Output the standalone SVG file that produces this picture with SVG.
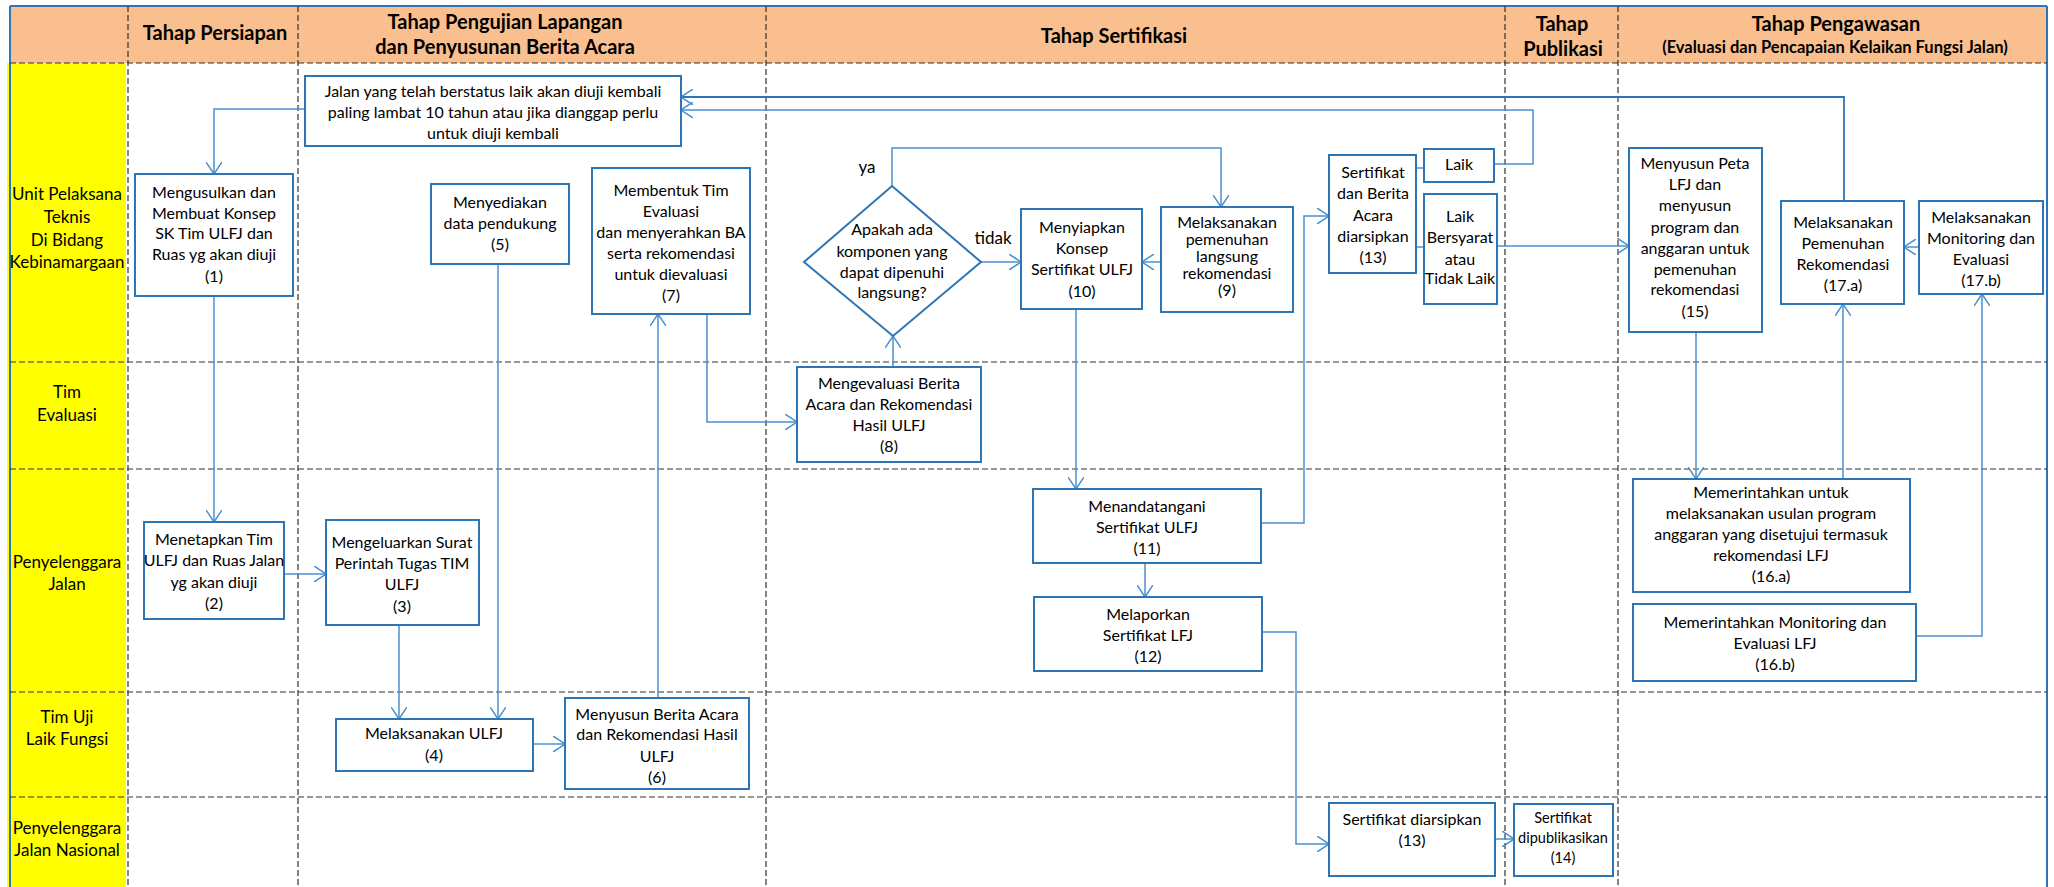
<svg xmlns="http://www.w3.org/2000/svg" width="2054" height="887" viewBox="0 0 2054 887">
<style>
.hdr{font-family:Lato,"Liberation Sans",sans-serif;font-weight:bold;font-size:20px;fill:#000;text-anchor:middle}
.hdr2{font-family:Lato,"Liberation Sans",sans-serif;font-weight:bold;font-size:16.5px;fill:#000;text-anchor:middle}
.lane{font-family:Lato,"Liberation Sans",sans-serif;font-size:17px;fill:#000;text-anchor:middle}
.t{font-family:Lato,"Liberation Sans",sans-serif;font-size:16px;fill:#000;text-anchor:middle}
.ts{font-family:Lato,"Liberation Sans",sans-serif;font-size:14.5px;fill:#000;text-anchor:middle}
.box{fill:#fff;stroke:#2E75B6;stroke-width:2}
.grid{stroke:#333;stroke-width:1.2;stroke-dasharray:6 3;fill:none}
.c{fill:none;stroke:#4A90D0;stroke-width:1.5}
.cd{fill:none;stroke:#2E75B6;stroke-width:1.8}
.lbl{font-family:Lato,"Liberation Sans",sans-serif;font-size:17px;fill:#000;text-anchor:middle}
</style>
<defs>
<marker id="ar" viewBox="0 0 12 16" refX="12" refY="8" markerWidth="12" markerHeight="16" markerUnits="userSpaceOnUse" orient="auto">
<path d="M0,0 L12,8 L0,16" fill="none" stroke="#4A90D0" stroke-width="1.5"/>
</marker>
</defs>
<rect x="0" y="0" width="2054" height="887" fill="#fff"/>
<rect x="10" y="6" width="2038" height="57" fill="#F9BF8F"/>
<rect x="7" y="63" width="119" height="824" fill="#FFFF00"/>
<g fill="none" stroke="#2E75B6" stroke-width="2">
<line x1="10" y1="6" x2="2047" y2="6"/>
<line x1="10" y1="6" x2="10" y2="887"/>
<line x1="2047" y1="6" x2="2047" y2="887"/>
</g>
<g class="grid">
<line x1="10" y1="63" x2="2047" y2="63"/>
<line x1="10" y1="362" x2="2047" y2="362"/>
<line x1="10" y1="469" x2="2047" y2="469"/>
<line x1="10" y1="692" x2="2047" y2="692"/>
<line x1="10" y1="797" x2="2047" y2="797"/>
<line x1="128" y1="6" x2="128" y2="887"/>
<line x1="298" y1="6" x2="298" y2="887"/>
<line x1="766" y1="6" x2="766" y2="887"/>
<line x1="1505" y1="6" x2="1505" y2="887"/>
<line x1="1618" y1="6" x2="1618" y2="887"/>
</g>
<g id="headers">
<text class="hdr" x="215" y="40">Tahap Persiapan</text>
<text class="hdr" x="505" y="29">Tahap Pengujian Lapangan</text>
<text class="hdr" x="505" y="54">dan Penyusunan Berita Acara</text>
<text class="hdr" x="1114" y="43">Tahap Sertifikasi</text>
<text class="hdr" x="1562" y="31">Tahap</text>
<text class="hdr" x="1563" y="56">Publikasi</text>
<text class="hdr" x="1836" y="31">Tahap Pengawasan</text>
<text class="hdr2" x="1835" y="53">(Evaluasi dan Pencapaian Kelaikan Fungsi Jalan)</text>
</g>
<g id="lanes">
<text class="lane" x="67" y="200">Unit Pelaksana</text>
<text class="lane" x="67" y="223">Teknis</text>
<text class="lane" x="67" y="246">Di Bidang</text>
<text class="lane" x="67" y="268">Kebinamargaan</text>
<text class="lane" x="67" y="398">Tim</text>
<text class="lane" x="67" y="421">Evaluasi</text>
<text class="lane" x="67" y="568">Penyelenggara</text>
<text class="lane" x="67" y="590">Jalan</text>
<text class="lane" x="67" y="723">Tim Uji</text>
<text class="lane" x="67" y="745">Laik Fungsi</text>
<text class="lane" x="67" y="834">Penyelenggara</text>
<text class="lane" x="67" y="856">Jalan Nasional</text>
</g>
<g id="connectors">
<polyline class="c" points="305,109 214,109 214,174" marker-end="url(#ar)"/>
<polyline class="c" points="214,296 214,522" marker-end="url(#ar)"/>
<polyline class="c" points="284,574 326,574" marker-end="url(#ar)"/>
<polyline class="c" points="399,625 399,719" marker-end="url(#ar)"/>
<polyline class="c" points="498,264 498,719" marker-end="url(#ar)"/>
<polyline class="c" points="533,744 565,744" marker-end="url(#ar)"/>
<polyline class="c" points="658,698 658,314" marker-end="url(#ar)"/>
<polyline class="c" points="707,314 707,422 797,422" marker-end="url(#ar)"/>
<polyline class="c" points="893,367 893,336" marker-end="url(#ar)"/>
<polyline class="c" points="892,186 892,148 1221,148 1221,207" marker-end="url(#ar)"/>
<polyline class="c" points="981,262 1021,262" marker-end="url(#ar)"/>
<polyline class="c" points="1161,262 1142,262" marker-end="url(#ar)"/>
<polyline class="c" points="1076,309 1076,489" marker-end="url(#ar)"/>
<polyline class="c" points="1261,523 1304,523 1304,216 1329,216" marker-end="url(#ar)"/>
<polyline class="c" points="1145,563 1145,597" marker-end="url(#ar)"/>
<polyline class="c" points="1262,632 1296,632 1296,844 1329,844" marker-end="url(#ar)"/>
<polyline class="c" points="1495,839 1514,839" marker-end="url(#ar)"/>
<polyline class="c" points="1416,168 1424,168"/>
<polyline class="c" points="1416,247 1424,247"/>
<polyline class="c" points="1494,164 1533,164 1533,110 681,110" marker-end="url(#ar)"/>
<polyline class="cd" points="1844,201 1844,97 681,97" marker-end="url(#ar)"/>
<polyline class="c" points="1497,246 1629,246" marker-end="url(#ar)"/>
<polyline class="c" points="1696,332 1696,479" marker-end="url(#ar)"/>
<polyline class="c" points="1843,479 1843,304" marker-end="url(#ar)"/>
<polyline class="c" points="1919,247 1904,247" marker-end="url(#ar)"/>
<polyline class="c" points="1916,636 1982,636 1982,294" marker-end="url(#ar)"/>
<text class="lbl" x="867" y="173">ya</text>
<text class="lbl" x="993" y="244">tidak</text>
</g>
<g id="n-ulang">
<rect class="box" x="305" y="76" width="376" height="70"/>
<text class="t" x="493" y="97">Jalan yang telah berstatus laik akan diuji kembali</text>
<text class="t" x="493" y="118">paling lambat 10 tahun atau jika dianggap perlu</text>
<text class="t" x="493" y="139">untuk diuji kembali</text>
</g>
<g id="n1">
<rect class="box" x="135" y="174" width="158" height="122"/>
<text class="t" x="214" y="198">Mengusulkan dan</text>
<text class="t" x="214" y="219">Membuat Konsep</text>
<text class="t" x="214" y="239">SK Tim ULFJ dan</text>
<text class="t" x="214" y="260">Ruas yg akan diuji</text>
<text class="t" x="214" y="282">(1)</text>
</g>
<g id="n5">
<rect class="box" x="431" y="184" width="138" height="80"/>
<text class="t" x="500" y="208">Menyediakan</text>
<text class="t" x="500" y="229">data pendukung</text>
<text class="t" x="500" y="250">(5)</text>
</g>
<g id="n7">
<rect class="box" x="592" y="168" width="158" height="146"/>
<text class="t" x="671" y="196">Membentuk Tim</text>
<text class="t" x="671" y="217">Evaluasi</text>
<text class="t" x="671" y="238">dan menyerahkan BA</text>
<text class="t" x="671" y="259">serta rekomendasi</text>
<text class="t" x="671" y="280">untuk dievaluasi</text>
<text class="t" x="671" y="301">(7)</text>
</g>
<g id="n-decision">
<polygon points="892,186 981,262 893,336 804,262" fill="#fff" stroke="#2E75B6" stroke-width="2"/>
<text class="t" x="892" y="235">Apakah ada</text>
<text class="t" x="892" y="257">komponen yang</text>
<text class="t" x="892" y="278">dapat dipenuhi</text>
<text class="t" x="892" y="298">langsung?</text>
</g>
<g id="n10">
<rect class="box" x="1021" y="209" width="121" height="100"/>
<text class="t" x="1082" y="233">Menyiapkan</text>
<text class="t" x="1082" y="254">Konsep</text>
<text class="t" x="1082" y="275">Sertifikat  ULFJ</text>
<text class="t" x="1082" y="297">(10)</text>
</g>
<g id="n9">
<rect class="box" x="1161" y="207" width="132" height="105"/>
<text class="t" x="1227" y="228">Melaksanakan</text>
<text class="t" x="1227" y="245">pemenuhan</text>
<text class="t" x="1227" y="262">langsung</text>
<text class="t" x="1227" y="279">rekomendasi</text>
<text class="t" x="1227" y="296">(9)</text>
</g>
<g id="n13a">
<rect class="box" x="1329" y="155" width="87" height="118"/>
<text class="t" x="1373" y="178">Sertifikat</text>
<text class="t" x="1373" y="199">dan Berita</text>
<text class="t" x="1373" y="221">Acara</text>
<text class="t" x="1373" y="242">diarsipkan</text>
<text class="t" x="1373" y="263">(13)</text>
</g>
<g id="n-laik">
<rect class="box" x="1424" y="149" width="70" height="33"/>
<text class="t" x="1459" y="170">Laik</text>
</g>
<g id="n-tidaklaik">
<rect class="box" x="1424" y="194" width="73" height="110"/>
<text class="t" x="1460" y="222">Laik</text>
<text class="t" x="1460" y="243">Bersyarat</text>
<text class="t" x="1460" y="265">atau</text>
<text class="t" x="1460" y="284">Tidak Laik</text>
</g>
<g id="n15">
<rect class="box" x="1629" y="148" width="133" height="184"/>
<text class="t" x="1695" y="169">Menyusun Peta</text>
<text class="t" x="1695" y="190">LFJ dan</text>
<text class="t" x="1695" y="211">menyusun</text>
<text class="t" x="1695" y="233">program dan</text>
<text class="t" x="1695" y="254">anggaran untuk</text>
<text class="t" x="1695" y="275">pemenuhan</text>
<text class="t" x="1695" y="295">rekomendasi</text>
<text class="t" x="1695" y="317">(15)</text>
</g>
<g id="n17a">
<rect class="box" x="1781" y="201" width="123" height="103"/>
<text class="t" x="1843" y="228">Melaksanakan</text>
<text class="t" x="1843" y="249">Pemenuhan</text>
<text class="t" x="1843" y="270">Rekomendasi</text>
<text class="t" x="1843" y="291">(17.a)</text>
</g>
<g id="n17b">
<rect class="box" x="1919" y="201" width="124" height="93"/>
<text class="t" x="1981" y="223">Melaksanakan</text>
<text class="t" x="1981" y="244">Monitoring dan</text>
<text class="t" x="1981" y="265">Evaluasi</text>
<text class="t" x="1981" y="286">(17.b)</text>
</g>
<g id="n8">
<rect class="box" x="797" y="367" width="184" height="95"/>
<text class="t" x="889" y="389">Mengevaluasi Berita</text>
<text class="t" x="889" y="410">Acara dan Rekomendasi</text>
<text class="t" x="889" y="431">Hasil ULFJ</text>
<text class="t" x="889" y="452">(8)</text>
</g>
<g id="n11">
<rect class="box" x="1033" y="489" width="228" height="74"/>
<text class="t" x="1147" y="512">Menandatangani</text>
<text class="t" x="1147" y="533">Sertifikat ULFJ</text>
<text class="t" x="1147" y="554">(11)</text>
</g>
<g id="n12">
<rect class="box" x="1034" y="597" width="228" height="74"/>
<text class="t" x="1148" y="620">Melaporkan</text>
<text class="t" x="1148" y="641">Sertifikat LFJ</text>
<text class="t" x="1148" y="662">(12)</text>
</g>
<g id="n16a">
<rect class="box" x="1633" y="479" width="277" height="113"/>
<text class="t" x="1771" y="498">Memerintahkan untuk</text>
<text class="t" x="1771" y="519">melaksanakan usulan program</text>
<text class="t" x="1771" y="540">anggaran yang disetujui termasuk</text>
<text class="t" x="1771" y="561">rekomendasi LFJ</text>
<text class="t" x="1771" y="582">(16.a)</text>
</g>
<g id="n16b">
<rect class="box" x="1633" y="604" width="283" height="77"/>
<text class="t" x="1775" y="628">Memerintahkan Monitoring dan</text>
<text class="t" x="1775" y="649">Evaluasi LFJ</text>
<text class="t" x="1775" y="670">(16.b)</text>
</g>
<g id="n2">
<rect class="box" x="144" y="522" width="140" height="97"/>
<text class="t" x="214" y="545">Menetapkan Tim</text>
<text class="t" x="214" y="566">ULFJ dan Ruas Jalan</text>
<text class="t" x="214" y="588">yg akan diuji</text>
<text class="t" x="214" y="609">(2)</text>
</g>
<g id="n3">
<rect class="box" x="326" y="520" width="153" height="105"/>
<text class="t" x="402" y="548">Mengeluarkan Surat</text>
<text class="t" x="402" y="569">Perintah Tugas TIM</text>
<text class="t" x="402" y="590">ULFJ</text>
<text class="t" x="402" y="612">(3)</text>
</g>
<g id="n4">
<rect class="box" x="336" y="719" width="197" height="52"/>
<text class="t" x="434" y="739">Melaksanakan ULFJ</text>
<text class="t" x="434" y="761">(4)</text>
</g>
<g id="n6">
<rect class="box" x="565" y="698" width="184" height="91"/>
<text class="t" x="657" y="720">Menyusun Berita Acara</text>
<text class="t" x="657" y="740">dan Rekomendasi Hasil</text>
<text class="t" x="657" y="762">ULFJ</text>
<text class="t" x="657" y="783">(6)</text>
</g>
<g id="n13b">
<rect class="box" x="1329" y="803" width="166" height="73"/>
<text class="t" x="1412" y="825">Sertifikat diarsipkan</text>
<text class="t" x="1412" y="846">(13)</text>
</g>
<g id="n14">
<rect class="box" x="1514" y="804" width="99" height="72"/>
<text class="ts" x="1563" y="823">Sertifikat</text>
<text class="ts" x="1563" y="843">dipublikasikan</text>
<text class="ts" x="1563" y="863">(14)</text>
</g>
</svg>
